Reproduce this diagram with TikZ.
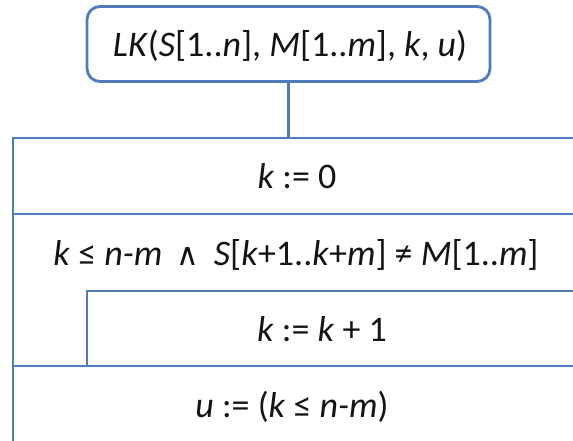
\documentclass[tikz,border=0pt]{standalone}
\usepackage{fontspec}
\setmainfont{Carlito}
\newfontfamily\symfont{DejaVu Sans}
\definecolor{framecol}{RGB}{79,125,185}
\definecolor{txtcol}{RGB}{20,20,20}
\newcommand{\andsym}{{\symfont\fontsize{31}{34}\selectfont ∧}}
\begin{document}
\begin{tikzpicture}[x=1pt,y=-1pt,
  frameline/.style={draw=framecol, line width=2.8pt},
  lbl/.style={font=\fontsize{36}{42}\selectfont, text=txtcol, inner sep=0pt, anchor=base},
  headbox/.style={frameline, rounded corners=13pt, minimum width=403pt, minimum height=75pt, inner sep=0pt}]
\useasboundingbox (0,0) rectangle (573,441);
\fill[white] (0,0) rectangle (573,441);
\begin{scope}
\clip (0,0) rectangle (573,441);
% header box
\node[headbox] (head) at (288.5,44) {};
\node[lbl] (headtxt) at (290,57) {\textit{LK}(\textit{S}[1..\textit{n}], \textit{M}[1..\textit{m}], \textit{k}, \textit{u})};
% main frame
\coordinate (top) at (288.5,138);
\draw[frameline] (13,138) rectangle (590,470);
\draw[frameline] (13,214) -- (590,214);
\draw[frameline] (87,366) |- (590,291);
\draw[frameline] (13,366) -- (590,366);
\draw[frameline] (head.south) -- (top);
% texts
\node[lbl] (r1) at (297,189) {\textit{k} := 0};
\node[lbl] (r2) at (296,265) {\textit{k} ≤ \textit{n-m}\hspace{0.4em}\andsym\hspace{0.4em}\textit{S}[\textit{k}+1..\textit{k}+\textit{m}] ≠ \textit{M}[1..\textit{m}]};
\node[lbl] (r3) at (322,341) {\textit{k} := \textit{k} + 1};
\node[lbl] (r4) at (292,417) {\textit{u} := (\textit{k} ≤ \textit{n-m})};
\end{scope}
\end{tikzpicture}
\end{document}
